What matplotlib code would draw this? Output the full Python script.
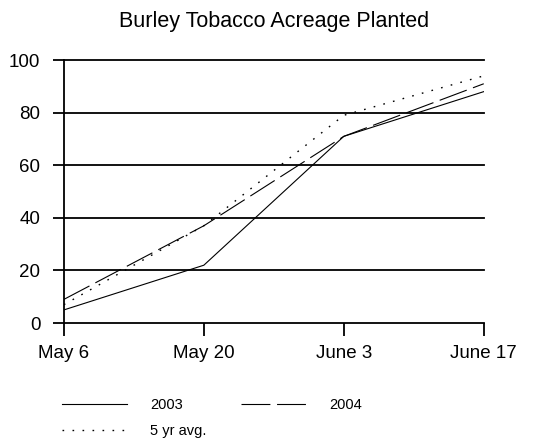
import matplotlib.pyplot as plt

plt.rcParams['font.family'] = ['Liberation Sans', 'DejaVu Sans']

# Data
dates = ["May 6", "May 20", "June 3", "June 17"]
y2003 = [5, 22, 71, 88]
y2004 = [9, 37, 71, 91]
avg5 = [7, 37, 79, 94]

fig = plt.figure(figsize=(5.46, 4.45), dpi=100)
ax = fig.add_axes([0.117, 0.274, 0.769, 0.591])

x = range(len(dates))
l1, = ax.plot(x, y2003, color="black", lw=0.8)
l2, = ax.plot(x, y2004, color="black", lw=0.8, dashes=(26, 6))
l3, = ax.plot(x, avg5, color="black", lw=1.0, dashes=(1.2, 6))

# horizontal grid lines
for v in [20, 40, 60, 80, 100]:
    ax.axhline(v, color="black", lw=1.3, zorder=0, clip_on=False)

ax.set_xlim(0, 3)
ax.set_ylim(0, 100)
ax.set_yticks([0, 20, 40, 60, 80, 100])
ax.set_xticks(list(x))
ax.set_xticklabels(dates)

for s in ["top", "right"]:
    ax.spines[s].set_visible(False)
ax.spines["left"].set_linewidth(1.3)
ax.spines["bottom"].set_linewidth(1.3)
ax.tick_params(axis="y", length=8, width=1.3, labelsize=13.5, pad=9)
ax.tick_params(axis="x", length=9.5, width=1.3, labelsize=13.5, pad=6)

ax.set_title("Burley Tobacco Acreage Planted", fontsize=15.5, pad=24)

fig.legend([l1, l3, l2], ["2003", "5 yr avg.", "2004"], ncol=2, frameon=False,
           loc="upper left", bbox_to_anchor=(0.09, 0.135), fontsize=10.5,
           handlelength=4.45, handletextpad=1.6, columnspacing=2.35, labelspacing=0.85)

fig.savefig("out.png", dpi=100)
